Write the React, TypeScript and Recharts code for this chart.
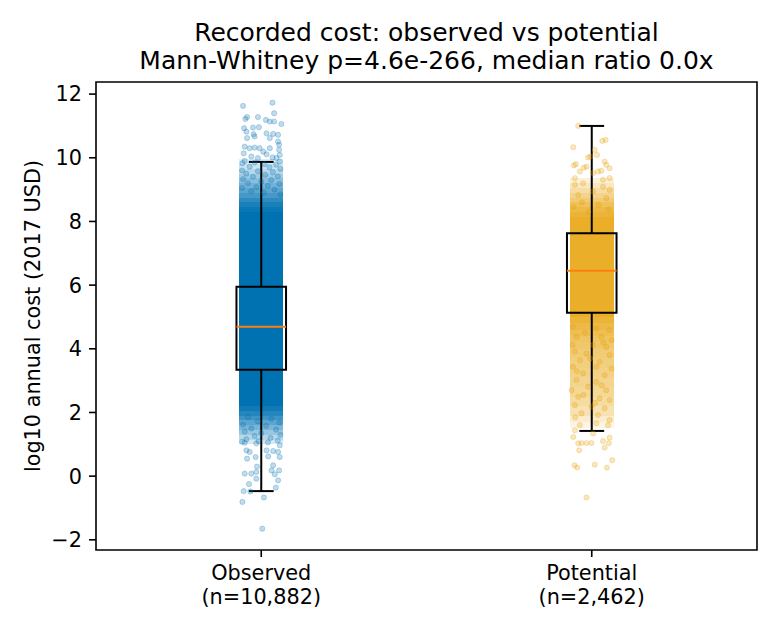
import {
  ComposedChart,
  Scatter,
  XAxis,
  YAxis,
  ReferenceArea,
  ReferenceLine,
} from "recharts";

// ---------------------------------------------------------------------------
// Data
// ---------------------------------------------------------------------------
const categories = ["Observed", "Potential"];
const counts = ["10,882", "2,462"];
const positions = [1, 2];
const colors = ["#0072B2", "#E69F00"];

// box plot summary (log10 cost)
const whiskerLow = [-0.47, 1.42];
const q1 = [3.34, 5.13];
const medians = [4.69, 6.45];
const q3 = [5.95, 7.63];
const whiskerHigh = [9.87, 11.0];

const yTicks = [-2, 0, 2, 4, 6, 8, 10, 12];
const yDomain = [-2.32, 12.38];

// individual (sparse) points: [jitter offset, value]
const observedPoints = [
  [-0.055, 11.63], [0.034, 11.73], [0.039, 11.4], [-0.048, 11.22], [-0.043, 11.28],
  [-0.01, 11.28], [0.014, 11.19], [0.026, 11.14], [0.061, 11.06], [0.039, 11.14],
  [-0.052, 10.93], [-0.025, 10.95], [-0.007, 10.96], [-0.045, 10.82], [-0.023, 10.74],
  [-0.02, 10.67], [0.016, 10.77], [0.036, 10.75], [0.051, 10.72], [-0.043, 10.62],
  [0.026, 10.62], [0.051, 10.51], [0.054, 10.41], [-0.05, 10.35], [-0.035, 10.3],
  [-0.02, 10.32], [-0.005, 10.3], [0.006, 10.19], [0.026, 10.3], [0.054, 10.25],
  [0.056, 10.09], [-0.053, 10.14], [0.016, 10.11], [0.034, 10.01], [-0.057, 9.83],
  [0.056, 9.88], [0.046, 9.99], [-0.03, 10.04], [-0.01, 9.99],
  [-0.05, 9.9], [-0.02, 9.85], [0.01, 9.8], [0.045, 9.78], [-0.035, 9.72],
  [0.025, 9.7], [0.058, 9.65], [-0.058, 9.6], [-0.01, 9.58], [0.035, 9.55],
  [-0.045, 9.5], [0.012, 9.47], [0.05, 9.42], [-0.025, 9.4], [-0.055, 9.33],
  [0.03, 9.3], [0.0, 9.25], [-0.04, 9.2], [0.055, 9.18], [0.02, 9.12],
  [-0.015, 9.08], [-0.058, 9.05], [0.04, 9.0], [-0.03, 8.95], [0.008, 8.9],
  [0.058, 8.85],
  [-0.04, 1.85], [0.03, 1.8], [-0.01, 1.72], [0.055, 1.68], [-0.055, 1.62],
  [0.015, 1.58], [-0.03, 1.5], [0.045, 1.46], [-0.05, 1.4], [0.0, 1.35],
  [0.058, 1.3], [-0.02, 1.26], [0.028, 1.2], [-0.045, 1.16], [0.05, 1.12],
  [-0.008, 1.1], [-0.058, 1.08], [0.02, 1.06],
  [-0.05, 1.05], [-0.015, 1.03], [0.056, 0.97], [-0.045, 0.81], [-0.035, 0.76],
  [0.016, 0.81], [0.036, 0.79], [0.051, 0.76], [0.056, 0.6], [-0.043, 0.55],
  [-0.017, 0.6], [0.021, 0.62], [-0.013, 0.3], [0.036, 0.34], [0.054, 0.18],
  [-0.05, 0.08], [-0.03, 0.08], [-0.015, 0.13], [0.031, 0.18], [0.041, 0.06],
  [0.051, -0.13], [-0.015, -0.08], [-0.037, -0.25], [0.044, -0.36], [-0.053, -0.47],
  [-0.033, -0.48], [0.008, -0.67], [-0.057, -0.81], [0.003, -1.65],
];

const potentialPoints = [
  [-0.041, 11.0], [-0.056, 10.33], [0.032, 10.53], [0.042, 10.56], [0.009, 10.25],
  [0.016, 10.09], [-0.011, 10.01], [-0.048, 9.8], [-0.054, 9.76], [-0.004, 10.04],
  [-0.016, 9.72], [-0.024, 9.69], [0.039, 9.88], [0.044, 9.78], [0.054, 9.67],
  [0.019, 9.57], [0.029, 9.59], [-0.036, 9.57], [0.004, 9.52], [-0.051, 9.36],
  [0.054, 9.36], [0.034, 9.31], [-0.051, 9.15], [-0.026, 9.2], [0.034, 9.09],
  [0.054, 8.99], [0.004, 8.94], [-0.041, 8.83], [0.044, 8.73],
  [-0.03, 8.6], [0.02, 8.52], [-0.055, 8.45], [0.05, 8.38], [-0.01, 8.3],
  [-0.057, 4.69], [0.014, 4.64], [0.054, 4.59], [-0.046, 4.38], [0.029, 4.38],
  [0.06, 4.27], [-0.058, 4.12], [0.004, 4.12], [0.044, 4.06], [-0.051, 3.91],
  [-0.016, 3.85], [0.054, 3.8], [-0.036, 3.64], [0.024, 3.59], [-0.057, 3.43],
  [0.014, 3.43], [0.06, 3.38], [-0.026, 3.23], [0.039, 3.17], [-0.046, 3.02],
  [0.014, 2.96], [-0.061, 2.7], [-0.011, 2.81], [0.044, 2.7], [-0.041, 2.49],
  [0.024, 2.44], [0.054, 2.39], [-0.051, 2.23], [-0.001, 2.18], [0.039, 2.13],
  [-0.031, 1.97], [0.019, 1.92], [0.054, 1.76], [-0.036, 1.6], [0.014, 1.66],
  [0.049, 1.6], [-0.02, 4.5], [0.035, 4.2], [-0.005, 3.7], [-0.045, 3.3],
  [0.03, 2.85], [-0.025, 2.55], [0.01, 2.3], [-0.05, 1.85],
  [-0.051, 1.44], [-0.056, 1.23], [-0.041, 1.03], [-0.031, 1.04], [-0.016, 1.04],
  [-0.001, 1.04], [0.034, 1.1], [0.052, 1.04], [0.054, 1.21], [-0.038, 0.81],
  [0.039, 0.9], [-0.052, 0.34], [-0.044, 0.27], [0.009, 0.36], [0.046, 0.27],
  [0.062, 0.5], [-0.016, -0.67], [0.004, 1.34],
];

// where the points overlap too much to tell apart: [low, high, opacity]
const observedBands = [
  [9.8, 9.95, 0.12], [9.65, 9.8, 0.2], [9.5, 9.65, 0.28], [9.35, 9.5, 0.37],
  [9.2, 9.35, 0.46], [9.05, 9.2, 0.55], [8.9, 9.05, 0.64], [8.75, 8.9, 0.73],
  [8.6, 8.75, 0.82], [8.45, 8.6, 0.9], [8.3, 8.45, 0.96], [2.2, 8.3, 1],
  [2.05, 2.2, 0.94], [1.9, 2.05, 0.86], [1.75, 1.9, 0.76], [1.6, 1.75, 0.64],
  [1.45, 1.6, 0.52], [1.3, 1.45, 0.4], [1.15, 1.3, 0.28], [1.0, 1.15, 0.16],
];
const potentialBands = [
  [9.2, 9.35, 0.15], [9.05, 9.2, 0.25], [8.9, 9.05, 0.35], [8.75, 8.9, 0.45],
  [8.6, 8.75, 0.55], [8.45, 8.6, 0.65], [8.3, 8.45, 0.72], [8.15, 8.3, 0.78],
  [5.0, 8.15, 0.84], [4.8, 5.0, 0.78], [4.6, 4.8, 0.72], [4.4, 4.6, 0.67],
  [4.2, 4.4, 0.62], [4.0, 4.2, 0.58], [3.7, 4.0, 0.54], [3.4, 3.7, 0.5],
  [3.1, 3.4, 0.47], [2.8, 3.1, 0.44], [2.5, 2.8, 0.41], [2.2, 2.5, 0.37],
  [1.9, 2.2, 0.3], [1.7, 1.9, 0.2], [1.5, 1.7, 0.1],
];

const pointSets = [observedPoints, potentialPoints];
const bandSets = [observedBands, potentialBands];

const FONT = "DejaVu Sans, sans-serif";
const BOX_HALF = 0.075;
const CAP_HALF = 0.0375;
const STRIP_HALF = 0.066;

const fmt = (v: number) => String(v).replace("-", "\u2212");

function XTick(props: any) {
  const { x, y, payload } = props;
  const i = positions.indexOf(payload.value);
  return (
    <text x={x} y={y} textAnchor="middle" fontSize={20.8} fontFamily={FONT} fill="#000">
      <tspan x={x} dy={16}>{categories[i]}</tspan>
      <tspan x={x} dy={24}>(n={counts[i]})</tspan>
    </text>
  );
}

function dot(color: string) {
  return (p: any) => (
    <circle
      cx={p.cx}
      cy={p.cy}
      r={2.6}
      fill={color}
      fillOpacity={0.25}
      stroke={color}
      strokeOpacity={0.3}
      strokeWidth={0.8}
    />
  );
}

export default function App() {
  const scatterData = pointSets.map((pts, i) =>
    pts.map(([dx, y]) => ({ x: positions[i] + dx, y }))
  );

  return (
    <div style={{ position: "absolute", left: 0, top: 0, width: 780, height: 630, background: "#fff" }}>
      <ComposedChart
        width={780}
        height={630}
        margin={{ top: 82, right: 23, bottom: 20, left: 36 }}
      >
        <XAxis
          type="number"
          dataKey="x"
          domain={[0.5, 2.5]}
          ticks={positions}
          tick={<XTick />}
          tickSize={7}
          tickMargin={7}
          height={60}
          axisLine={false}
          tickLine={{ stroke: "#000", strokeWidth: 1.6 }}
          allowDataOverflow
        />
        <YAxis
          type="number"
          dataKey="y"
          domain={yDomain}
          ticks={yTicks}
          tickFormatter={fmt}
          width={60}
          tickSize={7}
          tickMargin={7}
          axisLine={false}
          tickLine={{ stroke: "#000", strokeWidth: 1.6 }}
          tick={{ fontSize: 20.8, fill: "#000", fontFamily: FONT }}
          allowDataOverflow
        />

        {/* dense strip cores */}
        {bandSets.map((bands, i) =>
          bands.map(([lo, hi, op], j) => (
            <ReferenceArea
              key={`b${i}-${j}`}
              x1={positions[i] - STRIP_HALF}
              x2={positions[i] + STRIP_HALF}
              y1={lo}
              y2={hi}
              fill={colors[i]}
              fillOpacity={op}
              stroke="none"
              shapeRendering="crispEdges"
            />
          ))
        )}

        {scatterData.map((d, i) => (
          <Scatter
            key={`s${i}`}
            data={d}
            dataKey="y"
            shape={dot(colors[i])}
            isAnimationActive={false}
          />
        ))}

        {/* box plots */}
        {positions.map((p, i) => (
          <ReferenceArea
            key={`box${i}`}
            x1={p - BOX_HALF}
            x2={p + BOX_HALF}
            y1={q1[i]}
            y2={q3[i]}
            fill="none"
            fillOpacity={0}
            stroke="#000"
            strokeWidth={2}
          />
        ))}
        {positions.map((p, i) => (
          <ReferenceLine
            key={`wl${i}`}
            segment={[{ x: p, y: whiskerLow[i] }, { x: p, y: q1[i] }]}
            stroke="#000"
            strokeWidth={2}
          />
        ))}
        {positions.map((p, i) => (
          <ReferenceLine
            key={`wh${i}`}
            segment={[{ x: p, y: q3[i] }, { x: p, y: whiskerHigh[i] }]}
            stroke="#000"
            strokeWidth={2}
          />
        ))}
        {positions.map((p, i) => (
          <ReferenceLine
            key={`cl${i}`}
            segment={[{ x: p - CAP_HALF, y: whiskerLow[i] }, { x: p + CAP_HALF, y: whiskerLow[i] }]}
            stroke="#000"
            strokeWidth={2}
          />
        ))}
        {positions.map((p, i) => (
          <ReferenceLine
            key={`ch${i}`}
            segment={[{ x: p - CAP_HALF, y: whiskerHigh[i] }, { x: p + CAP_HALF, y: whiskerHigh[i] }]}
            stroke="#000"
            strokeWidth={2}
          />
        ))}
        {positions.map((p, i) => (
          <ReferenceLine
            key={`md${i}`}
            segment={[{ x: p - BOX_HALF, y: medians[i] }, { x: p + BOX_HALF, y: medians[i] }]}
            stroke="#FF7F0E"
            strokeWidth={2}
          />
        ))}

        {/* axes frame */}
        <ReferenceArea
          x1={0.5}
          x2={2.5}
          y1={yDomain[0]}
          y2={yDomain[1]}
          fill="none"
          fillOpacity={0}
          stroke="#000"
          strokeWidth={1.6}
        />
      </ComposedChart>

      <svg
        width={780}
        height={630}
        style={{ position: "absolute", left: 0, top: 0, pointerEvents: "none" }}
      >
        <text x={426.5} y={41} textAnchor="middle" fontSize={25} fontFamily={FONT} fill="#000">
          Recorded cost: observed vs potential
        </text>
        <text x={426.5} y={69} textAnchor="middle" fontSize={25} fontFamily={FONT} fill="#000">
          Mann-Whitney p=4.6e-266, median ratio 0.0x
        </text>
        <text
          transform="translate(40,316) rotate(-90)"
          textAnchor="middle"
          fontSize={20.8}
          fontFamily={FONT}
          fill="#000"
        >
          log10 annual cost (2017 USD)
        </text>
      </svg>
    </div>
  );
}
